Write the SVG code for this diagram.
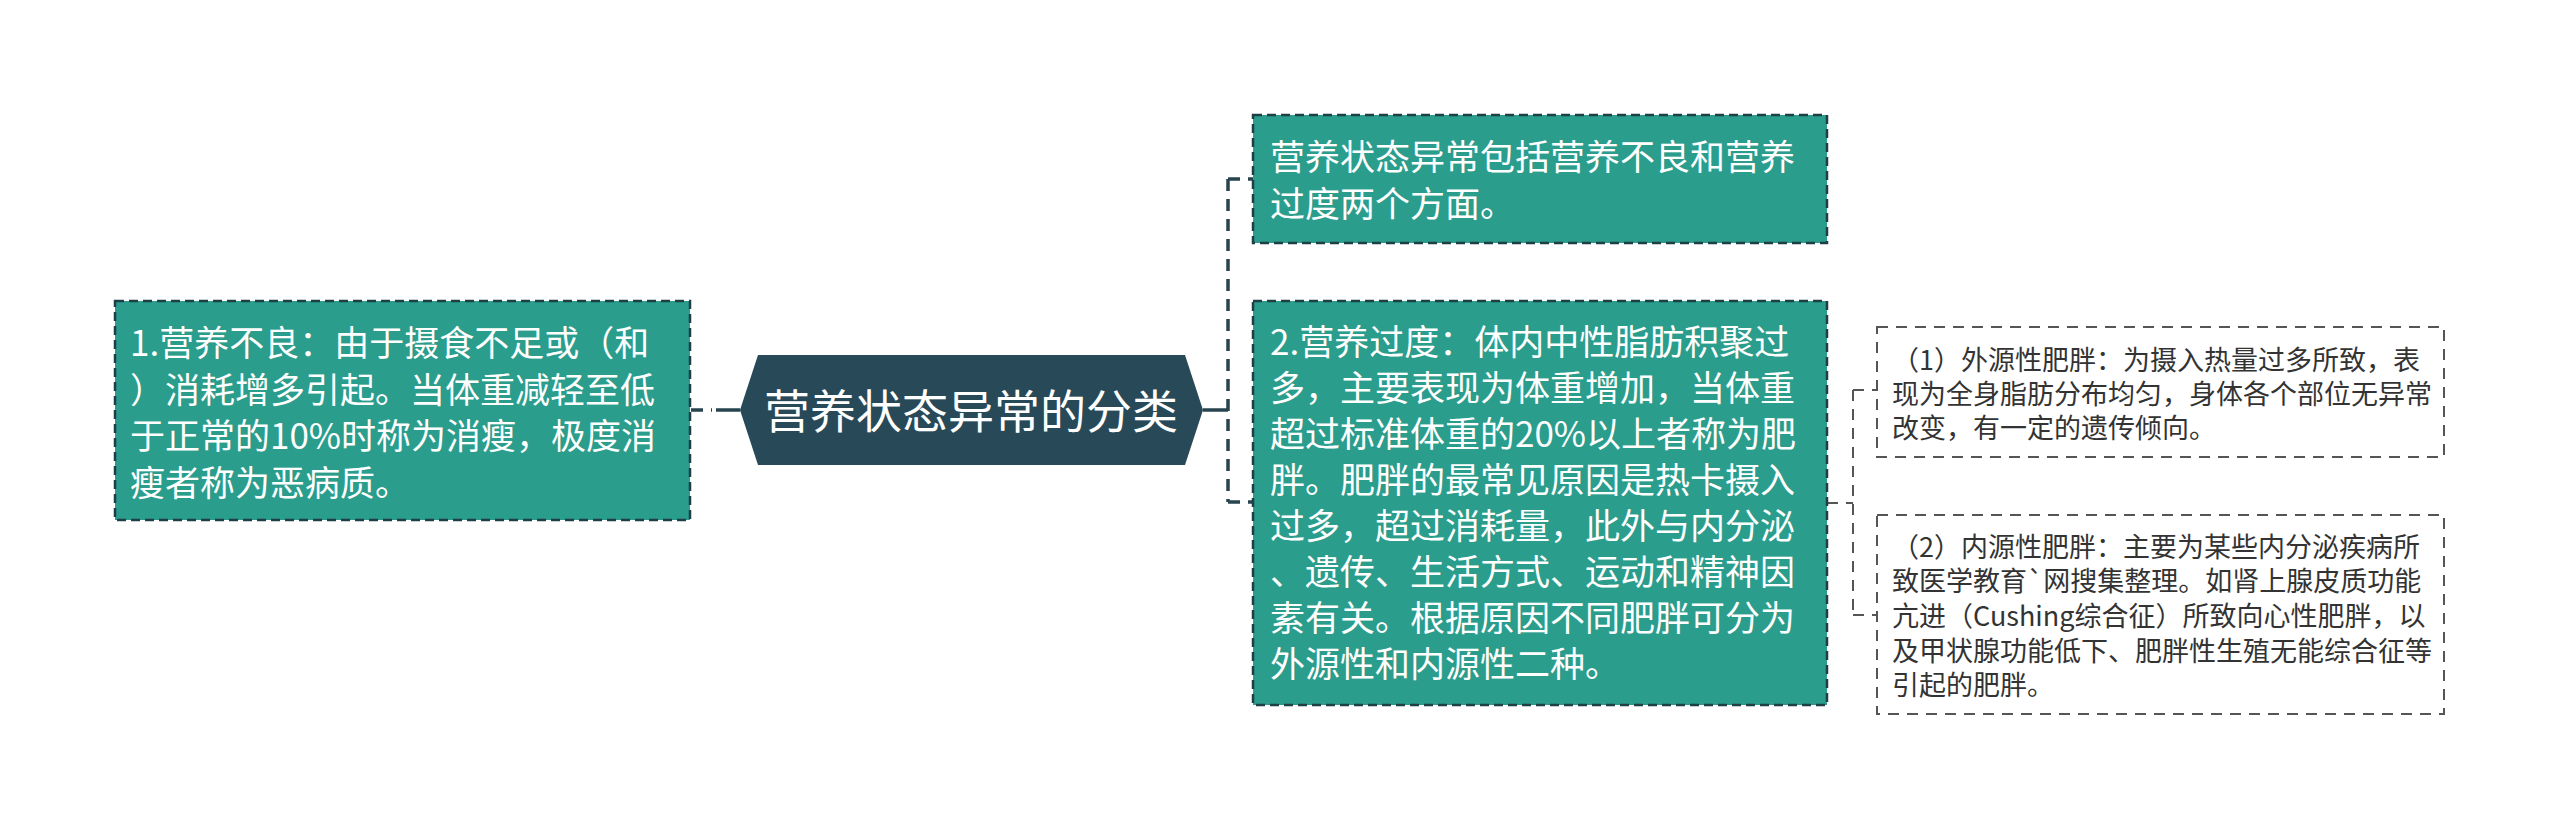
<svg xmlns="http://www.w3.org/2000/svg" width="2560" height="831" viewBox="0 0 2560 831">
<style>
.teal{fill:#2b9d8c;stroke:#1f3f47;stroke-width:2.5;stroke-dasharray:9 5}
.white{fill:#ffffff;stroke:#555555;stroke-width:2;stroke-dasharray:11 8}
.tt{font-family:"Noto Sans CJK SC","Noto Sans",sans-serif;font-size:35px;fill:#ffffff}
.st{font-family:"Noto Sans CJK SC","Noto Sans",sans-serif;font-size:27px;fill:#333333}
.title{font-family:"Noto Sans CJK SC","Noto Sans",sans-serif;font-size:46px;fill:#ffffff}
.c1{fill:none;stroke:#27444f;stroke-width:3.5}
.c1d{fill:none;stroke:#27444f;stroke-width:3.5;stroke-dasharray:12 8}
.c2d{fill:none;stroke:#555555;stroke-width:2;stroke-dasharray:11 8}
</style>
<rect x="0" y="0" width="2560" height="831" fill="#ffffff"/>
<g id="connectors">
<path class="c1d" d="M691 410 H712"/>
<path class="c1" d="M716 410 H740"/>
<path class="c1" d="M1203 410 H1228"/>
<path class="c1d" d="M1228 179 V502"/>
<path class="c1d" d="M1228 179 H1253"/>
<path class="c1d" d="M1228 502 H1253"/>
<path class="c2d" d="M1827 503 H1853"/>
<path class="c2d" d="M1853 390 V615"/>
<path class="c2d" d="M1853 390 H1877"/>
<path class="c2d" d="M1853 615 H1877"/>
</g>
<g id="node-left">
<rect class="teal" x="115" y="301" width="575" height="219"/>
<text class="tt" x="130" y="356">1.营养不良：由于摄食不足或（和</text>
<text class="tt" x="130" y="403">）消耗增多引起。当体重减轻至低</text>
<text class="tt" x="130" y="449">于正常的10%时称为消瘦，极度消</text>
<text class="tt" x="130" y="496">瘦者称为恶病质。</text>
</g>
<g id="node-root">
<polygon points="740,410 758,355 1185,355 1203,410 1185,465 758,465" fill="#284957"/>
<text class="title" x="971" y="428" text-anchor="middle">营养状态异常的分类</text>
</g>
<g id="node-top">
<rect class="teal" x="1253" y="115" width="574" height="128"/>
<text class="tt" x="1270" y="170">营养状态异常包括营养不良和营养</text>
<text class="tt" x="1270" y="217">过度两个方面。</text>
</g>
<g id="node-mid">
<rect class="teal" x="1253" y="301" width="574" height="404"/>
<text class="tt" x="1270" y="355">2.营养过度：体内中性脂肪积聚过</text>
<text class="tt" x="1270" y="401">多，主要表现为体重增加，当体重</text>
<text class="tt" x="1270" y="447">超过标准体重的20%以上者称为肥</text>
<text class="tt" x="1270" y="493">胖。肥胖的最常见原因是热卡摄入</text>
<text class="tt" x="1270" y="539">过多，超过消耗量，此外与内分泌</text>
<text class="tt" x="1270" y="585">、遗传、生活方式、运动和精神因</text>
<text class="tt" x="1270" y="631">素有关。根据原因不同肥胖可分为</text>
<text class="tt" x="1270" y="677">外源性和内源性二种。</text>
</g>
<g id="node-exo">
<rect class="white" x="1877" y="327" width="567" height="130"/>
<text class="st" x="1892" y="370">（1）外源性肥胖：为摄入热量过多所致，表</text>
<text class="st" x="1892" y="404">现为全身脂肪分布均匀，身体各个部位无异常</text>
<text class="st" x="1892" y="438">改变，有一定的遗传倾向。</text>
</g>
<g id="node-endo">
<rect class="white" x="1877" y="515" width="567" height="199"/>
<text class="st" x="1892" y="557">（2）内源性肥胖：主要为某些内分泌疾病所</text>
<text class="st" x="1892" y="591">致医学教育`网搜集整理。如肾上腺皮质功能</text>
<text class="st" x="1892" y="626">亢进（Cushing综合征）所致向心性肥胖，以</text>
<text class="st" x="1892" y="661">及甲状腺功能低下、肥胖性生殖无能综合征等</text>
<text class="st" x="1892" y="695">引起的肥胖。</text>
</g>
</svg>
